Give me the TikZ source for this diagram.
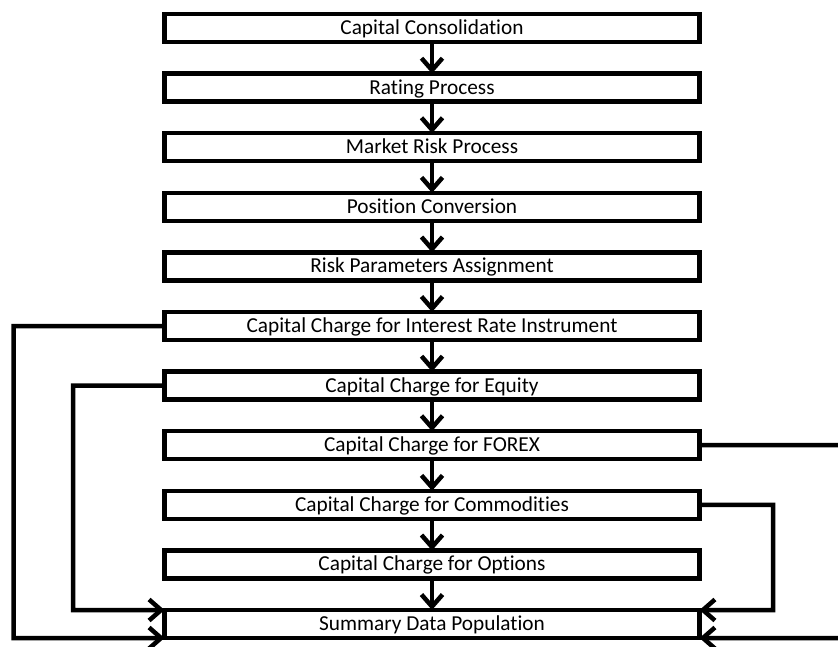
\documentclass[tikz,border=0pt]{standalone}
\usepackage{fontspec}
\setmainfont{Carlito}[Ligatures=NoCommon]
\usetikzlibrary{arrows.meta}
\begin{document}
\begin{tikzpicture}[x=1pt,y=-1pt,
  stepbox/.style={draw=black,line width=4.5pt,minimum width=535pt,minimum height=28pt,
    inner sep=0pt,outer sep=0pt,font=\fontsize{21.3}{23}\selectfont,text height=13pt,text depth=0pt},
  conn/.style={line width=4.5pt,-{Straight Barb[length=12pt,width=21pt]}},
  route/.style={line width=4.5pt,-{Straight Barb[length=12pt,width=21pt]}}]
\clip (0,0) rectangle (838,647);
\useasboundingbox (0,0) rectangle (838,647);
\foreach \n/\t [count=\i from 0] in {a/Capital Consolidation,b/Rating Process,c/Market Risk Process,d/Position Conversion,e/Risk Parameters Assignment,f/Capital Charge for Interest Rate Instrument,g/Capital Charge for Equity,h/Capital Charge for FOREX,k/Capital Charge for Commodities,m/Capital Charge for Options,s/Summary Data Population}
  \node[stepbox] (\n) at (432,{28+59.6*\i}) {\t};
\foreach \u/\v in {a/b,b/c,c/d,d/e,e/f,f/g,g/h,h/k,k/m,m/s}
  \draw[conn] (\u.south) -- (\v.north);
\coordinate (sl1) at ([yshift=-14pt]s.west);
\coordinate (sl2) at ([yshift=14pt]s.west);
\coordinate (sr1) at ([yshift=-14pt]s.east);
\coordinate (sr2) at ([yshift=14pt]s.east);
\draw[route] (f.west) -| (13.5,638) -- (sl1);
\draw[route] (g.west) -| (73,610) -- (sl2);
\draw[route] (k.east) -| (773,610) -- (sr2);
\draw[route] (h.east) -| (870,638) -- (sr1);
\end{tikzpicture}
\end{document}
